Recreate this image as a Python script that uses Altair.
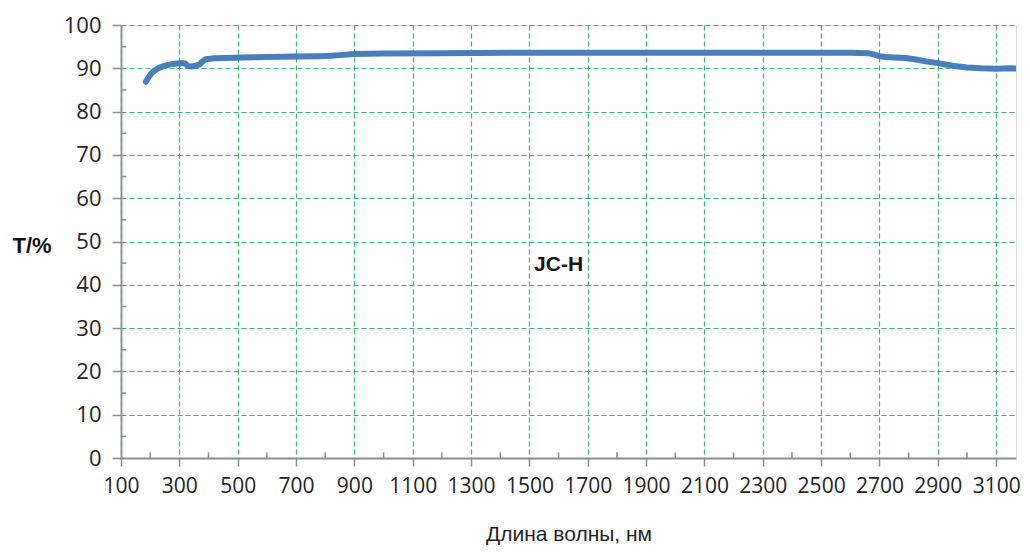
import altair as alt
import pandas as pd

# Spectrum data
wavelength = [185, 195, 205, 215, 230, 250, 270, 290, 310, 320, 330, 340, 355, 370, 380,
              390, 420, 460, 520, 600, 700, 780, 820, 860, 900, 1000, 1200, 1500, 1800,
              2100, 2400, 2600, 2660, 2680, 2700, 2720, 2750, 2790, 2820, 2860, 2900,
              2950, 3000, 3050, 3100, 3150, 3200]
transmission = [86.9, 88.0, 88.9, 89.5, 90.1, 90.6, 90.9, 91.1, 91.2, 91.1, 90.5, 90.4, 90.6,
                90.9, 91.6, 92.1, 92.3, 92.4, 92.5, 92.6, 92.7, 92.8, 92.9, 93.1, 93.3, 93.4,
                93.5, 93.6, 93.6, 93.6, 93.6, 93.6, 93.5, 93.2, 92.8, 92.6, 92.5, 92.4, 92.1,
                91.6, 91.2, 90.6, 90.2, 90.0, 89.9, 90.0, 89.8]

x_ticks = list(range(100, 3200, 100))
y_ticks = list(range(0, 101, 5))
x_minor = [v for v in x_ticks if v % 200 == 0]
y_minor = [v for v in y_ticks if v % 10 == 5]

label_text = ["JC-H"]
label_x = [1600]
label_y = [44.6]

df = pd.DataFrame({"wl": wavelength, "T": transmission})
df_xminor = pd.DataFrame({"wl": x_minor})
df_yminor = pd.DataFrame({"T": y_minor})
df_label = pd.DataFrame({"wl": label_x, "T": label_y, "text": label_text})

green = "#3cb371"
gray_grid = "#c9b9b9"
axis_gray = "#8c8c8c"

x_scale = alt.Scale(domain=[100, 3168], nice=False, zero=False)
y_scale = alt.Scale(domain=[0, 100], nice=False)

x_axis = alt.Axis(
    values=x_ticks,
    labelExpr="datum.value % 200 == 100 ? datum.label : ''",
    grid=True,
    gridColor={"condition": {"test": "datum.value % 200 == 100", "value": green}, "value": gray_grid},
    gridDash=[5, 3],
    gridWidth=1.2,
    tickSize={"condition": {"test": "datum.value % 200 == 100", "value": 8}, "value": 0},
    tickColor=axis_gray,
    tickWidth=1.5,
    domainColor=axis_gray,
    domainWidth=1.8,
    labelFont="Open Sans",
    labelFontSize=21,
    labelColor="#222222",
    labelPadding=9,
    labelFlush=False,
    title="Длина волны, нм",
    titleFont="Liberation Sans",
    titleFontSize=21,
    titleFontWeight="normal",
    titleColor="#222222",
    titleY=76,
    titleBaseline="middle",
    format="d",
)

y_axis = alt.Axis(
    values=y_ticks,
    labelExpr="datum.value % 10 == 0 ? datum.label : ''",
    grid=True,
    gridColor=green,
    gridDash=[5, 3],
    gridWidth=1.2,
    tickSize={"condition": {"test": "datum.value % 10 == 0", "value": 9}, "value": 0},
    tickColor=axis_gray,
    tickWidth=1.5,
    domainColor=axis_gray,
    domainWidth=1.8,
    labelFont="Open Sans",
    labelFontSize=22,
    labelColor="#222222",
    labelPadding=11,
    labelFlush=False,
    title="T/%",
    titleAngle=0,
    titleX=-109,
    titleY=220,
    titleAlign="left",
    titleBaseline="middle",
    titleFont="Liberation Sans",
    titleFontSize=22,
    titleFontWeight="bold",
    titleColor="#111111",
)

line = alt.Chart(df).mark_line(color="#4a7ebb", strokeWidth=6, clip=True,
                               strokeCap="round", strokeJoin="round").encode(
    x=alt.X("wl:Q", scale=x_scale, axis=x_axis),
    y=alt.Y("T:Q", scale=y_scale, axis=y_axis),
)

xminor = alt.Chart(df_xminor).mark_rule(color=axis_gray, strokeWidth=1.5).encode(
    x=alt.X("wl:Q", scale=x_scale),
    y=alt.datum(0),
    y2=alt.datum(1.3),
)

yminor = alt.Chart(df_yminor).mark_rule(color=axis_gray, strokeWidth=1.5).encode(
    y=alt.Y("T:Q", scale=y_scale),
    x=alt.datum(100),
    x2=alt.datum(118),
)

label = alt.Chart(df_label).mark_text(font="Liberation Sans", fontSize=21, fontWeight="bold",
                                      color="#111111").encode(
    x=alt.X("wl:Q", scale=x_scale),
    y=alt.Y("T:Q", scale=y_scale),
    text="text:N",
)

chart = alt.layer(xminor, yminor, line, label).properties(
    width=895,
    height=433,
    padding={"left": 113, "top": 17, "right": 6, "bottom": 88},
    autosize=alt.AutoSizeParams(type="none"),
).configure_view(stroke=None).configure(background="white")

chart.save("out.html", embed_options={"renderer": "svg", "actions": False})
